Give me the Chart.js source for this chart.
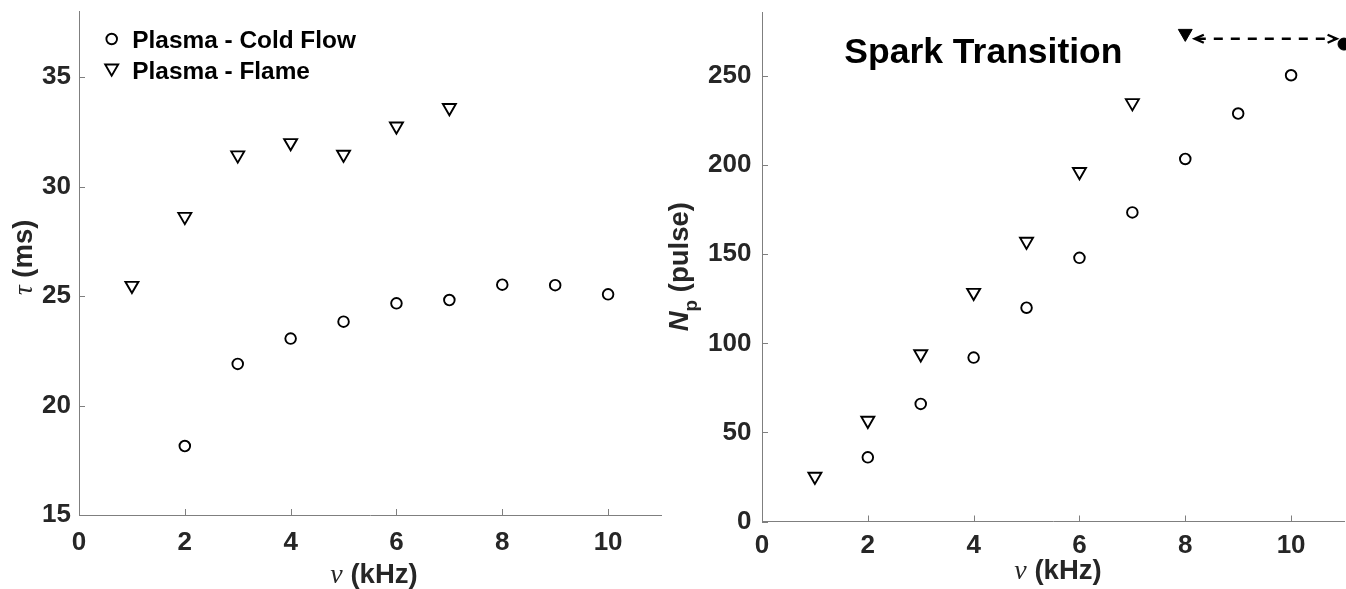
<!DOCTYPE html>
<html>
<head>
<meta charset="utf-8">
<script src="https://cdn.jsdelivr.net/npm/chart.js@4.4.1/dist/chart.umd.min.js"></script>
<style>
html,body{margin:0;padding:0;background:#fff;overflow:hidden;width:1346px;height:589px;}
canvas{position:absolute;top:0;left:0;}
</style>
</head>
<body>
<canvas id="c1" width="700" height="589" style="width:700px;height:589px"></canvas>
<canvas id="c2" width="1346" height="589" style="width:1346px;height:589px"></canvas>
<script>
// ---------------- data ----------------
const freqCold  = [2, 3, 4, 5, 6, 7, 8, 9, 10];
const freqFlame = [1, 2, 3, 4, 5, 6, 7];
const tauCold   = [18.15, 21.9, 23.06, 23.83, 24.67, 24.82, 25.52, 25.5, 25.08];
const tauFlame  = [25.48, 28.63, 31.44, 32.0, 31.47, 32.76, 33.6];
const npCold    = [36, 66, 92, 120, 148, 173.5, 203.5, 229, 250.5];
const npFlame   = [25.3, 56.7, 94, 128.5, 157.2, 196.3, 235];
const sparkFlame = [{x: 8, y: 274}];
const sparkCold  = [{x: 11, y: 268}];
const arrowFrom = [8.18, 271];
const arrowTo   = [10.86, 271];
const xTicks   = [0, 2, 4, 6, 8, 10];
const tauTicks = [15, 20, 25, 30, 35];
const npTicks  = [0, 50, 100, 150, 200, 250];
const seriesLabels = ['Plasma - Cold Flow', 'Plasma - Flame'];
const annotationText = 'Spark Transition';
const annotationPos = [1.556, 257.4];

// ---------------- styles ----------------
const FONT = '"Liberation Sans", Arial, Helvetica, sans-serif';
const SERIF = '"Liberation Serif", "DejaVu Serif", serif';
const AX = '#7f7f7f';
const TXT = '#262626';
const TRI_R = 7.5, CIR_R = 5.3, MW = 1.9;

function pts(xs, ys){ return xs.map((x, i) => ({x: x, y: ys[i]})); }

function hollow(label, data, style){
  return {
    label: label, data: data,
    pointStyle: style, rotation: style === 'triangle' ? 180 : 0,
    pointRadius: style === 'triangle' ? TRI_R : CIR_R,
    borderColor: '#000', backgroundColor: 'rgba(0,0,0,0)',
    pointBorderWidth: MW, borderWidth: MW, clip: false
  };
}

const tickPlugin = {
  id: 'inTicks',
  beforeDatasetsDraw(chart){
    const ctx = chart.ctx, a = chart.chartArea;
    const xs = chart.scales.x, ys = chart.scales.y;
    ctx.save();
    ctx.strokeStyle = AX; ctx.lineWidth = 1;
    ctx.beginPath();
    xs.ticks.forEach(t => { const px = Math.round(xs.getPixelForValue(t.value)) + 0.5; ctx.moveTo(px, a.bottom); ctx.lineTo(px, a.bottom - 6); });
    ys.ticks.forEach(t => { const py = Math.round(ys.getPixelForValue(t.value)) + 0.5; ctx.moveTo(a.left, py); ctx.lineTo(a.left + 6, py); });
    ctx.stroke();
    ctx.restore();
  }
};

function drawParts(ctx, parts, cx, baseline){
  let total = 0;
  parts.forEach(p => { ctx.font = p.font; p.w = ctx.measureText(p.t).width; total += p.w; });
  let x = cx - total / 2;
  parts.forEach(p => { ctx.font = p.font; ctx.fillText(p.t, x, baseline + (p.dy || 0)); x += p.w; });
}

function titlePlugin(xt, yt){
  return {
    id: 'titles',
    afterDraw(chart){
      const ctx = chart.ctx, a = chart.chartArea;
      ctx.save();
      ctx.fillStyle = TXT; ctx.textBaseline = 'alphabetic'; ctx.textAlign = 'left';
      drawParts(ctx, xt.parts, (a.left + a.right) / 2 + xt.dx, xt.baseline);
      ctx.translate(yt.baseline, (a.top + a.bottom) / 2 + yt.dy);
      ctx.rotate(-Math.PI / 2);
      drawParts(ctx, yt.parts, 0, 0);
      ctx.restore();
    }
  };
}

const legendPlugin = {
  id: 'inLegend',
  afterDatasetsDraw(chart){
    const ctx = chart.ctx, a = chart.chartArea;
    const rows = [0, 1];
    ctx.save();
    rows.forEach((di, i) => {
      const ds = chart.data.datasets[di];
      const my = a.top + 27.5 + i * 30.7;
      ctx.fillStyle = 'rgba(0,0,0,0)';
      ctx.strokeStyle = '#000'; ctx.lineWidth = MW;
      Chart.helpers.drawPoint(ctx, {
        pointStyle: ds.pointStyle, rotation: ds.rotation,
        radius: ds.pointStyle === 'triangle' ? TRI_R : CIR_R, borderWidth: MW
      }, a.left + 32.7, my + (ds.pointStyle === 'triangle' ? -1.5 : 0));
      ctx.fillStyle = '#000';
      ctx.font = 'bold 24.4px ' + FONT;
      ctx.textBaseline = 'alphabetic';
      ctx.fillText(ds.label, a.left + 53.3, a.top + 36.8 + i * 30.2);
    });
    ctx.restore();
  }
};

const annotPlugin = {
  id: 'annot',
  afterDatasetsDraw(chart){
    const ctx = chart.ctx, xs = chart.scales.x, ys = chart.scales.y;
    ctx.save();
    ctx.fillStyle = '#000';
    ctx.font = 'bold 35.5px ' + FONT;
    ctx.textBaseline = 'alphabetic';
    ctx.fillText(annotationText, xs.getPixelForValue(annotationPos[0]), ys.getPixelForValue(annotationPos[1]));
    const x1 = xs.getPixelForValue(arrowFrom[0]), y1 = ys.getPixelForValue(arrowFrom[1]);
    const x2 = xs.getPixelForValue(arrowTo[0]), y2 = ys.getPixelForValue(arrowTo[1]);
    ctx.strokeStyle = '#000'; ctx.lineWidth = 2.4;
    ctx.setLineDash([9, 8]);
    ctx.beginPath(); ctx.moveTo(x1 + 2, y1); ctx.lineTo(x2 - 2, y2); ctx.stroke();
    ctx.setLineDash([]);
    ctx.beginPath();
    ctx.moveTo(x1 + 9, y1 - 4); ctx.lineTo(x1, y1); ctx.lineTo(x1 + 9, y1 + 4);
    ctx.moveTo(x2 - 9, y2 - 4); ctx.lineTo(x2, y2); ctx.lineTo(x2 - 9, y2 + 4);
    ctx.stroke();
    ctx.restore();
  }
};

function scales(yMin, yMax, yTickList, yWidth, yPad, xHeight, xPad){
  const tickFont = {family: FONT, size: 26, weight: 'bold'};
  return {
    x: {
      type: 'linear', min: 0, max: 11,
      afterBuildTicks: s => { s.ticks = xTicks.map(v => ({value: v})); },
      afterFit: s => { s.height = xHeight; s.paddingLeft = 0; s.paddingRight = 0; },
      grid: {display: false, drawTicks: false},
      border: {display: true, color: AX, width: 1},
      ticks: {padding: xPad, color: TXT, font: tickFont, maxRotation: 0, autoSkip: false}
    },
    y: {
      type: 'linear', min: yMin, max: yMax,
      afterBuildTicks: s => { s.ticks = yTickList.map(v => ({value: v})); },
      afterFit: s => { s.width = yWidth; s.paddingTop = 0; s.paddingBottom = 0; },
      grid: {display: false, drawTicks: false},
      border: {display: true, color: AX, width: 1},
      ticks: {padding: yPad, color: TXT, font: tickFont, autoSkip: false}
    }
  };
}

const common = {
  responsive: false, animation: false, events: [],
  plugins: {legend: {display: false}, tooltip: {enabled: false}}
};

new Chart(document.getElementById('c1'), {
  type: 'scatter',
  data: {datasets: [
    hollow(seriesLabels[0], pts(freqCold, tauCold), 'circle'),
    hollow(seriesLabels[1], pts(freqFlame, tauFlame), 'triangle')
  ]},
  options: Object.assign({}, common, {
    layout: {autoPadding: false, padding: {left: 0, top: 11.5, right: 39, bottom: 0}},
    scales: scales(15, 38, tauTicks, 79, 8, 74, 12)
  }),
  plugins: [tickPlugin, legendPlugin, titlePlugin(
    {parts: [{t: 'ν', font: 'italic 28px ' + SERIF}, {t: ' (kHz)', font: 'bold 27.5px ' + FONT}], dx: 4, baseline: 583},
    {parts: [{t: 'τ', font: 'italic 27px ' + SERIF}, {t: ' (ms)', font: 'bold 27.5px ' + FONT}], dy: -6, baseline: 31.5}
  )]
});

new Chart(document.getElementById('c2'), {
  type: 'scatter',
  data: {datasets: [
    hollow(seriesLabels[0], pts(freqCold, npCold), 'circle'),
    hollow(seriesLabels[1], pts(freqFlame, npFlame), 'triangle'),
    {label: 'spark flame', data: sparkFlame, pointStyle: 'triangle', rotation: 180, pointRadius: 8,
     backgroundColor: '#000', borderColor: '#000', pointBorderWidth: 1, clip: false},
    {label: 'spark cold', data: sparkCold, pointStyle: 'circle', pointRadius: 6,
     backgroundColor: '#000', borderColor: '#000', pointBorderWidth: 1, clip: false}
  ]},
  options: Object.assign({}, common, {
    layout: {autoPadding: false, padding: {left: 700, top: 12, right: 2, bottom: 0}},
    scales: scales(0, 286, npTicks, 62, 10.5, 67.5, 9)
  }),
  plugins: [tickPlugin, annotPlugin, titlePlugin(
    {parts: [{t: 'ν', font: 'italic 28px ' + SERIF}, {t: ' (kHz)', font: 'bold 27.5px ' + FONT}], dx: 5, baseline: 579},
    {parts: [{t: 'N', font: 'italic bold 27.5px ' + FONT}, {t: 'p', font: 'bold 19px ' + FONT, dy: 9}, {t: ' (pulse)', font: 'bold 27.5px ' + FONT}], dy: 0, baseline: 687.5}
  )]
});
</script>
</body>
</html>
